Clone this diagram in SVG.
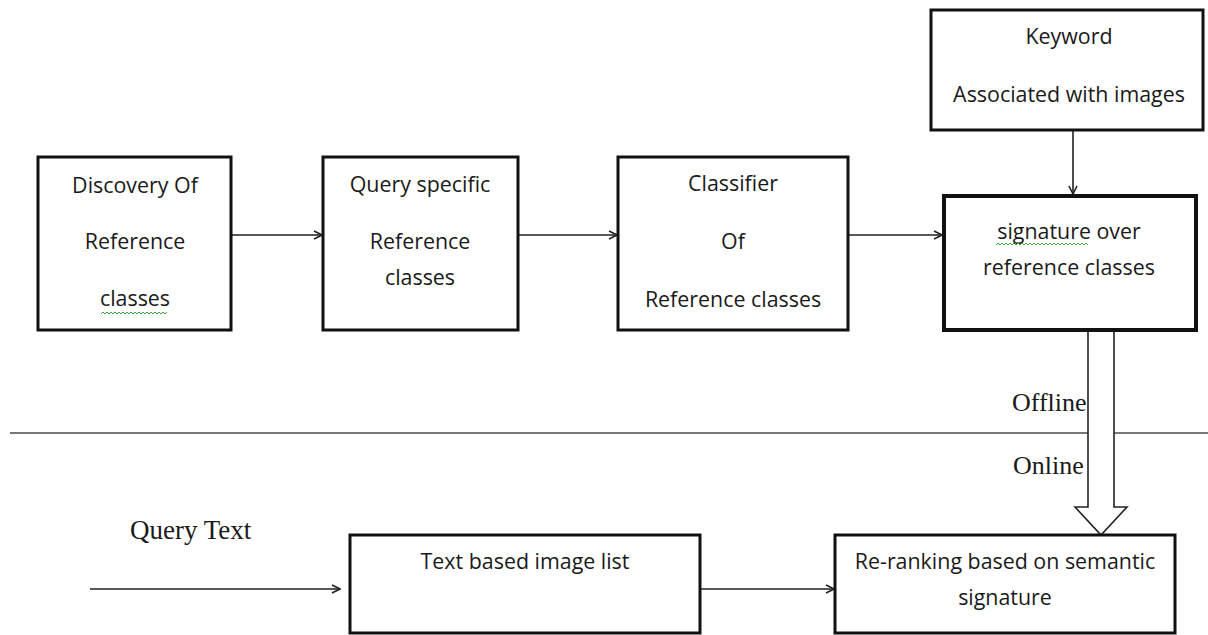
<svg xmlns="http://www.w3.org/2000/svg" width="1208" height="635" viewBox="0 0 1208 635">
  <style>
    .box { fill: #ffffff; stroke: #111111; stroke-width: 3; }
    .boxb { fill: #ffffff; stroke: #111111; stroke-width: 4; }
    .lbl { font-family: "Open Sans", "Liberation Sans", sans-serif; font-size: 21.4px; fill: #1a1a1a; text-anchor: middle; }
    .ser { font-family: "Liberation Serif", serif; fill: #1a1a1a; }
    .edge { stroke: #222222; stroke-width: 1.6; fill: none; }
    .squig { stroke: #3aa83a; stroke-width: 1; fill: none; }
  </style>
  <defs>
    <marker id="arr" viewBox="0 0 10 10" refX="9" refY="5" markerWidth="10" markerHeight="10" markerUnits="userSpaceOnUse" orient="auto">
      <path d="M1,1 L9,5 L1,9" fill="none" stroke="#222222" stroke-width="1.6"/>
    </marker>
  </defs>
  <rect width="1208" height="635" fill="#ffffff"/>

  <!-- offline / online separator -->
  <line x1="10" y1="433" x2="1208" y2="433" stroke="#777777" stroke-width="2"/>
  <text class="ser" x="1012" y="411" font-size="26">Offline</text>
  <text class="ser" x="1013" y="474" font-size="26">Online</text>
  <text class="ser" x="130" y="539" font-size="27">Query Text</text>

  <g id="connectors">
    <line class="edge" x1="231" y1="235" x2="322" y2="235" marker-end="url(#arr)"/>
    <line class="edge" x1="518" y1="235" x2="617" y2="235" marker-end="url(#arr)"/>
    <line class="edge" x1="848" y1="235" x2="942" y2="235" marker-end="url(#arr)"/>
    <line class="edge" x1="1073" y1="130" x2="1073" y2="194" marker-end="url(#arr)"/>
    <line class="edge" x1="90" y1="589" x2="340" y2="589" marker-end="url(#arr)"/>
    <line class="edge" x1="700" y1="589" x2="834" y2="589" marker-end="url(#arr)"/>
    <!-- hollow block arrow from signature to re-ranking -->
    <path d="M1088,331 L1088,507 L1075,507 L1101,535 L1127,507 L1114,507 L1114,331" fill="#ffffff" stroke="#222222" stroke-width="1.6"/>
  </g>

  <g id="discovery">
    <rect class="box" x="38" y="157" width="193" height="173"/>
    <text class="lbl" x="135" y="193">Discovery Of</text>
    <text class="lbl" x="135" y="249">Reference</text>
    <text class="lbl" x="135" y="306">classes</text>
    <path class="squig" d="M101,314 l2,-2 l2,2 l2,-2 l2,2 l2,-2 l2,2 l2,-2 l2,2 l2,-2 l2,2 l2,-2 l2,2 l2,-2 l2,2 l2,-2 l2,2 l2,-2 l2,2 l2,-2 l2,2 l2,-2 l2,2 l2,-2 l2,2 l2,-2 l2,2 l2,-2 l2,2 l2,-2 l2,2 l2,-2 l2,2 l2,-2"/>
  </g>

  <g id="query-specific">
    <rect class="box" x="323" y="157" width="195" height="173"/>
    <text class="lbl" x="420" y="192">Query specific</text>
    <text class="lbl" x="420" y="249">Reference</text>
    <text class="lbl" x="420" y="285">classes</text>
  </g>

  <g id="classifier">
    <rect class="box" x="618" y="157" width="230" height="173"/>
    <text class="lbl" x="733" y="191">Classifier</text>
    <text class="lbl" x="733" y="249">Of</text>
    <text class="lbl" x="733" y="307">Reference classes</text>
  </g>

  <g id="keyword">
    <rect class="box" x="931" y="10" width="272" height="120"/>
    <text class="lbl" x="1069" y="44">Keyword</text>
    <text class="lbl" x="1069" y="102">Associated with images</text>
  </g>

  <g id="signature">
    <rect class="boxb" x="944" y="196" width="252" height="134"/>
    <text class="lbl" x="1069" y="239">signature over</text>
    <text class="lbl" x="1069" y="275">reference classes</text>
    <path class="squig" d="M996,245 l2,-2 l2,2 l2,-2 l2,2 l2,-2 l2,2 l2,-2 l2,2 l2,-2 l2,2 l2,-2 l2,2 l2,-2 l2,2 l2,-2 l2,2 l2,-2 l2,2 l2,-2 l2,2 l2,-2 l2,2 l2,-2 l2,2 l2,-2 l2,2 l2,-2 l2,2 l2,-2 l2,2 l2,-2 l2,2 l2,-2 l2,2 l2,-2 l2,2 l2,-2 l2,2 l2,-2 l2,2 l2,-2 l2,2 l2,-2 l2,2 l2,-2 l2,2"/>
  </g>

  <g id="text-list">
    <rect class="box" x="350" y="535" width="350" height="98"/>
    <text class="lbl" x="525" y="569">Text based image list</text>
  </g>

  <g id="reranking">
    <rect class="box" x="835" y="535" width="340" height="98"/>
    <text class="lbl" x="1005" y="569">Re-ranking based on semantic</text>
    <text class="lbl" x="1005" y="605">signature</text>
  </g>
</svg>
